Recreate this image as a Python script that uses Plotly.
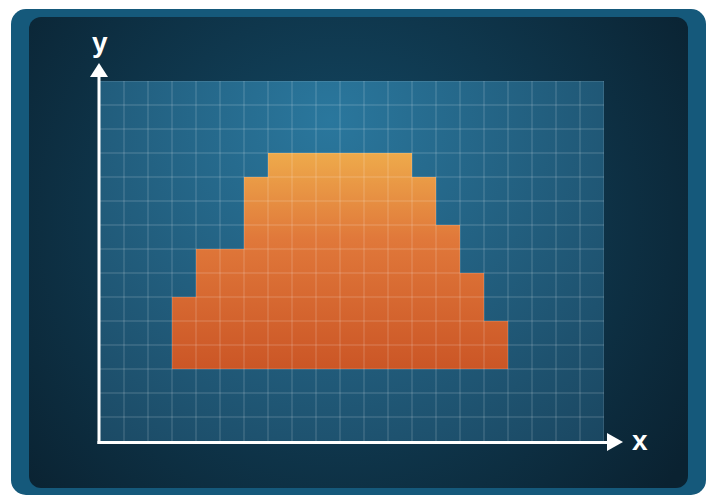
import base64
import plotly.graph_objects as go

# chart data: a stepped block shape on a 21 x 15 cell grid
x_edges = list(range(3, 18))
col_heights = [6, 8, 8, 11, 12, 12, 12, 12, 12, 12, 11, 9, 7, 5]
base_level = 3
x_cells = 21
y_cells = 15
axis_labels = ["x", "y"]

W, H = 718, 504
L, T, R, B = 100, 81, 604, 441  # plot area in page pixels


def px(x):
    return (x - L) / (R - L)


def py(y):
    return (B - y) / (B - T)


# background frame + gradients as one svg picture
bg_svg = f"""<svg xmlns="http://www.w3.org/2000/svg" width="{W}" height="{H}" viewBox="0 0 {W} {H}">
<defs>
<radialGradient id="panel" cx="340" cy="220" r="420" gradientUnits="userSpaceOnUse">
<stop offset="0" stop-color="#144c69"/><stop offset="1" stop-color="#0a2231"/></radialGradient>
<radialGradient id="grid" cx="330" cy="120" r="430" gradientUnits="userSpaceOnUse">
<stop offset="0" stop-color="#2a779d"/><stop offset="1" stop-color="#1a4660"/></radialGradient>
</defs>
<rect width="{W}" height="{H}" fill="#ffffff"/>
<rect x="11" y="9" width="695" height="486" rx="15" fill="#15597b"/>
<rect x="29" y="17" width="659" height="471" rx="12" fill="url(#panel)"/>
<rect x="{L}" y="{T}" width="{R - L}" height="{B - T}" fill="url(#grid)"/>
</svg>"""
bg_src = "data:image/svg+xml;base64," + base64.b64encode(bg_svg.encode()).decode()

fig = go.Figure()

# base line of the block
fig.add_trace(go.Scatter(
    x=[x_edges[0], x_edges[-1]], y=[base_level, base_level],
    mode="lines", line=dict(width=0), hoverinfo="skip", showlegend=False
))
# stepped top, filled down to the base
fig.add_trace(go.Scatter(
    x=x_edges, y=col_heights + [col_heights[-1]],
    mode="lines", line=dict(width=0, shape="hv"),
    fill="tonexty",
    fillgradient=dict(
        type="vertical",
        colorscale=[[0, "#cb5626"], [0.6, "#e0783a"], [1, "#eeaa4b"]],
        start=base_level, stop=max(col_heights)
    ),
    hoverinfo="skip", showlegend=False
))

shapes = []
grid_line = dict(color="rgba(255,255,255,0.22)", width=1)
for i in range(1, x_cells + 1):
    shapes.append(dict(type="line", xref="x", yref="y", x0=i, x1=i, y0=0, y1=y_cells,
                       line=grid_line, layer="above"))
for j in range(1, y_cells + 1):
    shapes.append(dict(type="line", xref="x", yref="y", x0=0, x1=x_cells, y0=j, y1=j,
                       line=grid_line, layer="above"))

white = "#ffffff"
# axis lines with arrow heads
shapes.append(dict(type="line", xref="paper", yref="paper",
                   x0=px(99), x1=px(99), y0=py(444), y1=py(75),
                   line=dict(color=white, width=3), layer="above"))
shapes.append(dict(type="line", xref="paper", yref="paper",
                   x0=px(97.5), x1=px(610), y0=py(442.5), y1=py(442.5),
                   line=dict(color=white, width=3), layer="above"))
shapes.append(dict(type="path", xref="paper", yref="paper",
                   path=f"M {px(90)},{py(77)} L {px(99)},{py(63)} L {px(108)},{py(77)} Z",
                   fillcolor=white, line=dict(width=0), layer="above"))
shapes.append(dict(type="path", xref="paper", yref="paper",
                   path=f"M {px(607)},{py(433)} L {px(623)},{py(442)} L {px(607)},{py(451)} Z",
                   fillcolor=white, line=dict(width=0), layer="above"))

label_font = dict(family="Liberation Sans, Arial, sans-serif", size=28, color=white)
annotations = [
    dict(text=f"<b>{axis_labels[0]}</b>", xref="paper", yref="paper",
         x=px(640), y=py(440), xanchor="center", yanchor="middle",
         showarrow=False, font=label_font),
    dict(text=f"<b>{axis_labels[1]}</b>", xref="paper", yref="paper",
         x=px(100), y=py(43), xanchor="center", yanchor="middle",
         showarrow=False, font=label_font),
]

fig.update_layout(
    width=W, height=H,
    margin=dict(l=L, r=W - R, t=T, b=H - B),
    paper_bgcolor="#ffffff",
    plot_bgcolor="rgba(0,0,0,0)",
    showlegend=False,
    xaxis=dict(range=[0, x_cells], showgrid=False, zeroline=False,
               showticklabels=False, showline=False, fixedrange=True),
    yaxis=dict(range=[0, y_cells], showgrid=False, zeroline=False,
               showticklabels=False, showline=False, fixedrange=True),
    images=[dict(source=bg_src, xref="paper", yref="paper",
                 x=px(0), y=py(0), sizex=W / (R - L), sizey=H / (B - T),
                 xanchor="left", yanchor="top", sizing="stretch", layer="below")],
    shapes=shapes,
    annotations=annotations,
)

# drop the page's default body margin so the figure sits at the window corner
fig.write_html("out.html", config={"displayModeBar": False},
               post_script="document.body.style.margin='0';")
